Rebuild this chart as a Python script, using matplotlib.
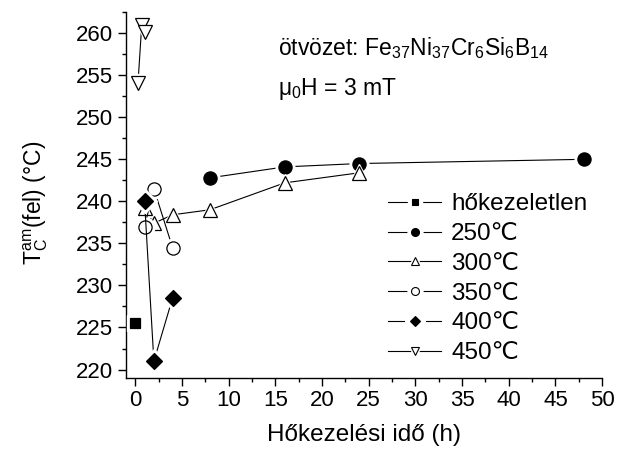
import matplotlib
matplotlib.use("Agg")
import matplotlib.pyplot as plt
from matplotlib.lines import Line2D
from matplotlib.ticker import MultipleLocator

plt.rcParams['font.family'] = ['Liberation Sans', 'DejaVu Sans']
plt.rcParams['mathtext.fontset'] = 'custom'
plt.rcParams['mathtext.rm'] = 'Liberation Sans'
plt.rcParams['mathtext.it'] = 'Liberation Sans'

# data
labels = ["hőkezeletlen", "250℃", "300℃", "350℃", "400℃", "450℃"]
t_untreated = [0]
tc_untreated = [225.5]
t_250 = [8, 16, 24, 48]
tc_250 = [242.8, 244.1, 244.5, 245.0]
t_300 = [1, 2, 4, 8, 16, 24]
tc_300 = [239.2, 237.4, 238.4, 239.0, 242.2, 243.4]
t_350 = [1, 2, 4]
tc_350 = [237.0, 241.5, 234.5]
t_400 = [1, 2, 4]
tc_400 = [240.0, 221.0, 228.5]
t_450 = [0.3, 0.7, 1.0]
tc_450 = [254.1, 261.0, 260.2]

series = [
    (t_untreated, tc_untreated, 's', 'black', 7.5),
    (t_250, tc_250, 'o', 'black', 9.5),
    (t_300, tc_300, '^', 'white', 9.5),
    (t_350, tc_350, 'o', 'white', 9.5),
    (t_400, tc_400, 'D', 'black', 8),
    (t_450, tc_450, 'v', 'white', 9.5),
]

fig = plt.figure(figsize=(6.17, 4.51), dpi=100)
ax = fig.add_axes([0.204, 0.162, 0.772, 0.811])

# origin style: line stops short of each marker (white halo under marker)
handles = []
for i, (t, tc, m, fc, ms) in enumerate(series):
    z = 2 + i * 3
    ax.plot(t, tc, '-', color='black', lw=0.8, zorder=z)
    ax.plot(t, tc, ls='', marker=m, ms=ms + 4, mfc='white', mec='white', zorder=z + 1)
    ax.plot(t, tc, ls='', marker=m, ms=ms, mfc=fc, mec='black', mew=0.9, zorder=z + 2)
    handles.append((
        Line2D([], [], color='black', lw=0.8),
        Line2D([], [], ls='', marker=m, ms=ms * 0.6 + 5, mfc='white', mec='white'),
        Line2D([], [], ls='', marker=m, ms=ms * 0.6, mfc=fc, mec='black', mew=0.8),
    ))

ax.set_xlim(-1, 50)
ax.set_ylim(219, 262.5)
ax.xaxis.set_major_locator(MultipleLocator(5))
ax.xaxis.set_minor_locator(MultipleLocator(2.5))
ax.yaxis.set_major_locator(MultipleLocator(5))
ax.yaxis.set_minor_locator(MultipleLocator(2.5))

for s in ['top', 'right']:
    ax.spines[s].set_visible(False)
for s in ['left', 'bottom']:
    ax.spines[s].set_linewidth(1.0)
ax.tick_params(which='major', direction='out', length=5.5, width=1, labelsize=16, pad=3.5)
ax.tick_params(which='minor', direction='out', length=3, width=1)

ax.set_xlabel("Hőkezelési idő (h)", fontsize=17.5, labelpad=9)
ax.set_ylabel(r"T$_\mathregular{C}^\mathregular{am}$(fel) (°C)", fontsize=16.5)
ax.yaxis.set_label_coords(-0.16, 0.478)

ax.text(0.32, 0.882, r"ötvözet: Fe$_{37}$Ni$_{37}$Cr$_6$Si$_6$B$_{14}$",
        transform=ax.transAxes, fontsize=16.5, va='baseline')
ax.text(0.32, 0.773, r"$\mu_0$H = 3 mT", transform=ax.transAxes,
        fontsize=16.5, va='baseline')

leg = ax.legend(handles, labels, loc='upper left', bbox_to_anchor=(0.55, 0.505),
                frameon=False, fontsize=17.5, handlelength=2.2,
                handletextpad=0.4, labelspacing=0.32, borderaxespad=0,
                borderpad=0)

fig.savefig("out.png", dpi=100)
